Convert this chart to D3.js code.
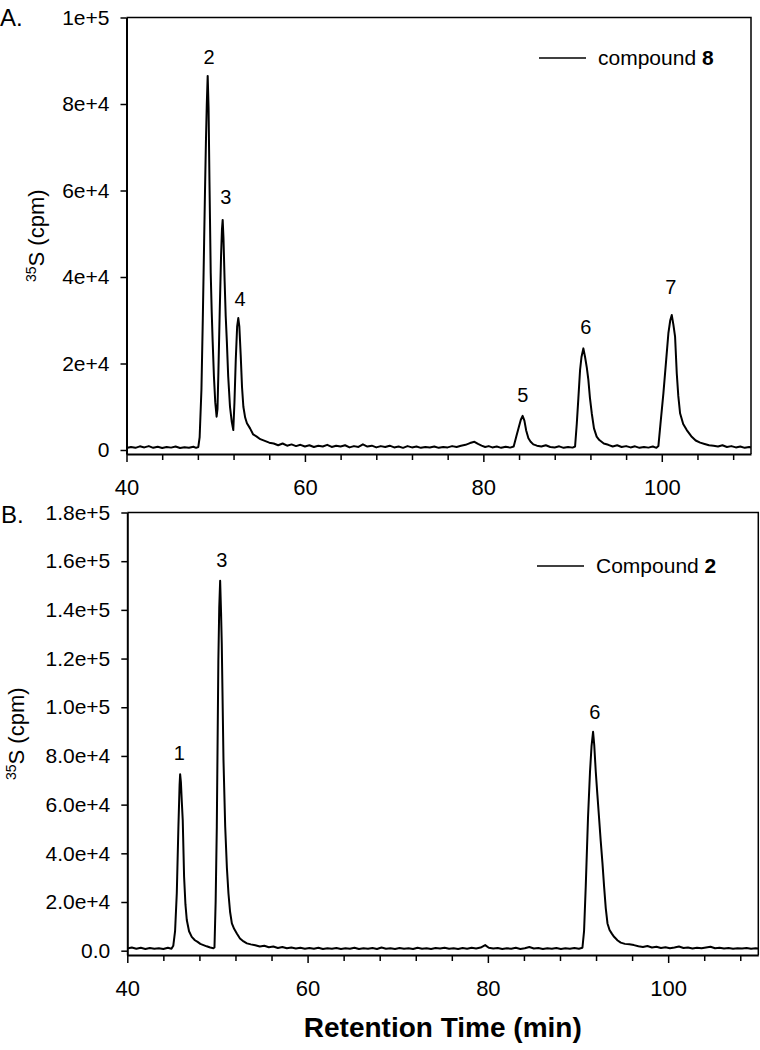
<!DOCTYPE html>
<html>
<head>
<meta charset="utf-8">
<script src="https://cdn.jsdelivr.net/npm/d3@7"></script>
<style>
  body { margin: 0; background: #fff; }
  svg text { font-family: "Liberation Sans", Arial, sans-serif; fill: #000; }
</style>
</head>
<body>
<div class="chart"></div>
<script>
// chromatogram traces, [retention time (min), 35S cpm]
const traceA = [
  [40,450],[40.5,700],[41,500],[41.5,850],[42,600],[42.5,900],[43,500],[43.5,750],[44,450],[44.5,700],
  [45,550],[45.5,800],[46,450],[46.5,650],[47,500],[47.5,750],[47.8,500],[48.05,700],
  [48.2,3000],[48.4,14000],[48.55,30000],[48.7,48000],[48.8,60000],[48.9,71000],[49.0,80000],[49.1,86500],
  [49.2,79000],[49.3,62000],[49.44,41000],[49.55,32000],[49.66,25000],[49.8,17000],[49.95,11000],[50.1,7700],[50.2,9500],
  [50.3,18000],[50.45,32000],[50.6,45000],[50.7,51000],[50.78,53200],[50.87,49000],[51.0,39000],[51.12,31000],
  [51.25,25000],[51.4,17000],[51.6,10000],[51.8,6500],[51.97,4600],[52.1,11000],[52.25,21000],[52.4,28500],
  [52.53,30500],[52.65,28500],[52.8,22000],[52.95,14500],[53.1,10000],[53.3,7500],[53.5,6200],[53.85,5000],
  [54.2,3600],[54.6,3100],[55,2500],[55.5,2100],[56,1700],[56.5,1500],[57,1100],[57.5,1500],[58,1000],[58.5,1300],
  [59,900],[59.5,1200],[60,800],[60.5,1100],[61,700],[61.5,1000],[62,800],[62.5,1200],[63,700],[63.5,1000],
  [64,800],[64.5,1100],[65,600],[65.5,900],[66,700],[66.5,1300],[67,800],[67.5,1000],[68,600],[68.5,900],
  [69,700],[69.5,1000],[70,600],[70.5,800],[71,500],[71.5,900],[72,600],[72.5,800],[73,500],[73.5,700],
  [74,600],[74.5,800],[75,500],[75.5,700],[76,600],[76.5,900],[77,700],[77.5,1000],[78,1200],[78.5,1600],
  [79,1900],[79.4,1400],[79.8,1000],[80.2,700],[80.6,900],[81,600],[81.5,800],[82,500],[82.5,750],[83,550],
  [83.4,800],[83.7,3200],[84.0,5500],[84.2,7000],[84.4,7900],[84.6,6800],[84.8,4500],[85.05,2700],[85.3,1900],
  [85.6,1300],[86,1000],[86.5,800],[87,1100],[87.5,700],[88,600],[88.5,850],[89,500],[89.5,700],[90,550],
  [90.28,800],[90.47,6000],[90.65,12000],[90.84,18500],[91.0,21500],[91.21,23500],[91.4,21500],[91.6,19000],
  [91.77,16200],[91.95,12000],[92.15,8500],[92.4,5000],[92.7,3100],[93.0,2300],[93.5,1500],[94.0,1200],
  [94.5,800],[95,1100],[95.5,700],[96,900],[96.5,600],[97,850],[97.5,500],[98,700],[98.5,550],[99,800],
  [99.4,500],[99.62,900],[99.85,6000],[100.18,13100],[100.5,21000],[100.74,27000],[100.95,30000],[101.12,31200],
  [101.3,29000],[101.49,26200],[101.68,17700],[101.85,12500],[102.05,8500],[102.4,6000],[102.8,4600],[103.3,3200],
  [103.8,2200],[104.3,1700],[104.8,1400],[105.3,1100],[105.8,1000],[106.3,800],[106.8,1100],[107.3,700],
  [107.8,900],[108.3,600],[108.8,800],[109.3,500],[109.8,700],[110,600]
];

const traceB = [
  [40,900],[40.5,1300],[41,800],[41.5,1200],[42,700],[42.5,1100],[43,800],[43.5,1000],[44,700],[44.5,1200],
  [44.9,800],[45.1,2000],[45.3,8000],[45.49,23600],[45.67,51000],[45.8,68000],[45.86,72500],[45.95,69000],
  [46.05,61000],[46.15,53700],[46.3,30400],[46.45,19000],[46.6,12600],[46.85,8000],[47.15,5700],[47.5,4300],
  [47.8,3600],[48.1,2800],[48.45,2300],[48.8,1800],[49.2,1300],[49.55,1000],[49.67,1300],[49.8,20000],
  [49.93,51000],[50.1,119000],[50.2,141000],[50.3,152000],[50.4,139000],[50.48,126000],[50.67,78300],[50.86,51000],
  [51.05,34000],[51.22,23600],[51.4,16000],[51.6,11200],[51.85,9000],[52.15,7100],[52.5,5000],[52.9,3800],
  [53.27,3000],[53.7,2600],[54.2,2200],[54.7,1700],[55.2,2000],[55.7,1400],[56.2,1700],[56.7,1100],[57.2,1500],
  [57.7,1000],[58.2,1300],[58.7,900],[59.2,1200],[59.7,800],[60.2,1100],[60.7,800],[61.2,1200],[61.7,700],
  [62.2,1000],[62.7,800],[63.2,1100],[63.7,700],[64.2,1000],[64.7,800],[65.2,1200],[65.7,700],[66.2,1000],
  [66.7,800],[67.2,1100],[67.7,700],[68.2,1300],[68.7,800],[69.2,1000],[69.7,700],[70.2,1100],[70.7,800],
  [71.2,1000],[71.7,700],[72.2,1200],[72.7,800],[73.2,1000],[73.7,700],[74.2,1100],[74.7,900],[75.2,1200],
  [75.7,800],[76.2,1000],[76.7,700],[77.2,1100],[77.7,800],[78.2,1200],[78.7,900],[79.2,1300],[79.7,2300],
  [80.1,1200],[80.6,900],[81.1,1100],[81.6,700],[82.1,1000],[82.6,800],[83.1,1200],[83.6,700],[84.1,1000],
  [84.6,1500],[85.1,900],[85.6,1100],[86.1,700],[86.6,1000],[87.1,800],[87.6,1100],[88.1,700],[88.6,1000],
  [89.1,800],[89.6,1100],[90.1,800],[90.49,1200],[90.67,8000],[90.86,26700],[91.11,54800],[91.33,73500],
  [91.5,84000],[91.67,89900],[91.8,84500],[91.97,73500],[92.15,64000],[92.33,54800],[92.52,45000],[92.71,36100],
  [92.9,26000],[93.08,17400],[93.27,11200],[93.5,8500],[93.75,7000],[94.0,5700],[94.4,4200],[94.74,3300],
  [95.2,2800],[95.7,2600],[96.2,2300],[96.7,1800],[97.2,1500],[97.7,1900],[98.2,1300],[98.7,1600],[99.2,1100],
  [99.7,1400],[100.2,1000],[100.7,1300],[101.2,1700],[101.7,1100],[102.2,1300],[102.7,900],[103.2,1200],
  [103.7,1000],[104.2,1300],[104.7,1600],[105.2,1000],[105.7,1200],[106.2,900],[106.7,1100],[107.2,800],
  [107.7,1000],[108.2,900],[108.7,1100],[109.2,800],[109.7,1000],[110,900]
];

// peak numbers and where they sit (time, cpm)
const peakNamesA = ['2', '3', '4', '5', '6', '7'];
const peakTimesA = [49.25, 51.12, 52.72, 84.42, 91.48, 101.01];
const peakCpmA = [90900, 58600, 34800, 12700, 28400, 37800];
const peakNamesB = ['1', '3', '6'];
const peakTimesB = [45.78, 50.49, 91.86];
const peakCpmB = [81300, 160400, 98000];

// axis ticks
const xMajorTicks = [40, 60, 80, 100];
const xMinorTicks = [44, 48, 52, 56, 64, 68, 72, 76, 84, 88, 92, 96, 104, 108];
const yTicksA = [0, 20000, 40000, 60000, 80000, 100000];
const yLabelsA = ['0', '2e+4', '4e+4', '6e+4', '8e+4', '1e+5'];
const yTicksB = [0, 20000, 40000, 60000, 80000, 100000, 120000, 140000, 160000, 180000];
const yLabelsB = ['0.0', '2.0e+4', '4.0e+4', '6.0e+4', '8.0e+4', '1.0e+5', '1.2e+5', '1.4e+5', '1.6e+5', '1.8e+5'];

const width = 760, height = 1050;

let svg = d3.select('.chart').append('svg')
  .attr('width', width)
  .attr('height', height);

function drawPanel(p) {
  let xScale = d3.scaleLinear().domain([40, 110]).range([p.left, p.right]);
  let yScale = d3.scaleLinear().domain(p.yDomain).range([p.bottom, p.top]);

  let g = svg.append('g');

  // frame: top and right edges
  g.append('path')
    .attr('d', 'M' + p.left + ',' + p.top + 'H' + p.right + 'V' + p.bottom)
    .attr('fill', 'none')
    .attr('stroke', '#000')
    .attr('stroke-width', 1.5);

  let line = d3.line()
    .x(function(d) { return xScale(d[0]); })
    .y(function(d) { return yScale(d[1]); });

  g.append('path')
    .datum(p.trace)
    .attr('d', line)
    .attr('fill', 'none')
    .attr('stroke', '#000')
    .attr('stroke-width', 2)
    .attr('stroke-linejoin', 'round');

  // y axis
  let yAxis = d3.axisLeft(yScale)
    .tickValues(p.yTicks)
    .tickFormat(function(d, i) { return p.yLabels[i]; })
    .tickSize(6)
    .tickSizeOuter(0);

  let ya = g.append('g')
    .attr('transform', 'translate(' + p.left + ',0)')
    .call(yAxis);
  ya.select('.domain').attr('stroke-width', 2);
  ya.selectAll('.tick line').attr('stroke-width', 1.5);
  ya.selectAll('text')
    .attr('x', -17)
    .style('font-size', '21px')
    .style('font-family', '"Liberation Sans", Arial, sans-serif');

  // x axis, minor then major
  let xMinor = d3.axisBottom(xScale)
    .tickValues(xMinorTicks)
    .tickFormat('')
    .tickSize(6)
    .tickSizeOuter(0);
  let xm = g.append('g')
    .attr('transform', 'translate(0,' + p.bottom + ')')
    .call(xMinor);
  xm.select('.domain').remove();
  xm.selectAll('.tick line').attr('stroke-width', 1.5);

  let xAxis = d3.axisBottom(xScale)
    .tickValues(xMajorTicks)
    .tickSize(8)
    .tickSizeOuter(0);
  let xa = g.append('g')
    .attr('transform', 'translate(0,' + p.bottom + ')')
    .call(xAxis);
  xa.select('.domain').attr('stroke-width', 2);
  xa.selectAll('.tick line').attr('stroke-width', 1.5);
  xa.selectAll('text')
    .attr('y', 41)
    .attr('dy', 0)
    .style('font-size', '22px')
    .style('font-family', '"Liberation Sans", Arial, sans-serif');

  // peak numbers
  g.selectAll('.peak')
    .data(p.peakNames).enter()
    .append('text')
    .attr('class', 'peak')
    .attr('x', function(d, i) { return xScale(p.peakTimes[i]); })
    .attr('y', function(d, i) { return yScale(p.peakCpm[i]); })
    .attr('dy', '0.35em')
    .attr('text-anchor', 'middle')
    .style('font-size', '20px')
    .text(function(d) { return d; });

  // y title
  let yt = g.append('text')
    .attr('transform', 'translate(' + p.titleX + ',' + ((p.top + p.bottom) / 2) + ')rotate(-90)')
    .attr('text-anchor', 'middle')
    .style('font-size', '22px');
  yt.append('tspan').attr('baseline-shift', 'super').style('font-size', '14px').text('35');
  yt.append('tspan').text('S (cpm)');

  // panel letter
  g.append('text')
    .attr('x', p.letterX)
    .attr('y', p.letterY)
    .style('font-size', '24px')
    .text(p.letter);

  // legend
  g.append('line')
    .attr('x1', p.legendX).attr('x2', p.legendX + 47)
    .attr('y1', p.legendY).attr('y2', p.legendY)
    .attr('stroke', '#000')
    .attr('stroke-width', 1.5);
  let lt = g.append('text')
    .attr('x', p.legendX + 59)
    .attr('y', p.legendY + 7)
    .style('font-size', '21px');
  lt.append('tspan').text(p.legendText + ' ');
  lt.append('tspan').style('font-weight', 'bold').text(p.legendBold);
}

drawPanel({
  trace: traceA, left: 126.5, right: 751, top: 17.5, bottom: 454,
  yDomain: [-925, 100000], yTicks: yTicksA, yLabels: yLabelsA,
  peakNames: peakNamesA, peakTimes: peakTimesA, peakCpm: peakCpmA,
  letter: 'A.', letterX: 0, letterY: 26, titleX: 44,
  legendX: 539, legendY: 58, legendText: 'compound', legendBold: '8'
});

drawPanel({
  trace: traceB, left: 127.3, right: 758.3, top: 512.5, bottom: 955,
  yDomain: [-1770, 180000], yTicks: yTicksB, yLabels: yLabelsB,
  peakNames: peakNamesB, peakTimes: peakTimesB, peakCpm: peakCpmB,
  letter: 'B.', letterX: 1, letterY: 523, titleX: 24,
  legendX: 537, legendY: 566, legendText: 'Compound', legendBold: '2'
});

svg.append('text')
  .attr('x', 442.8)
  .attr('y', 1037)
  .attr('text-anchor', 'middle')
  .style('font-size', '28px')
  .style('font-weight', 'bold')
  .text('Retention Time (min)');
</script>
</body>
</html>
